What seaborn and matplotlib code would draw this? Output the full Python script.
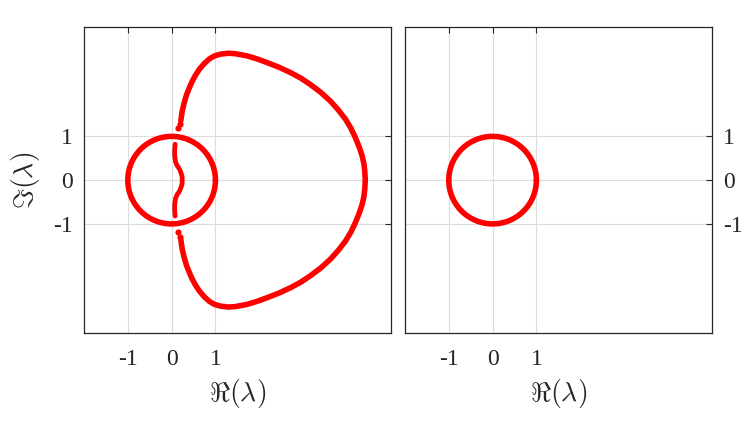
import matplotlib

matplotlib.use("Agg")
import matplotlib.pyplot as plt
import numpy as np
import pandas as pd
import seaborn as sns

# unit circle
radius = 1.0
theta = np.linspace(0, 2 * np.pi, 361)

# outer eigenvalue curve, upper half, mirrored below
outer_re = [0.21, 0.24, 0.29, 0.34, 0.40, 0.46, 0.54, 0.63, 0.74, 0.86, 0.98,
            1.12, 1.30, 1.45, 1.72, 1.95, 2.17, 2.45, 2.71, 2.95, 3.16, 3.40,
            3.62, 3.80, 3.97, 4.09, 4.19, 4.28, 4.35, 4.39, 4.41, 4.42]
outer_im = [1.36, 1.57, 1.78, 1.95, 2.10, 2.24, 2.39, 2.53, 2.66, 2.77, 2.84,
            2.88, 2.90, 2.89, 2.84, 2.77, 2.69, 2.58, 2.46, 2.33, 2.19, 2.01,
            1.81, 1.61, 1.39, 1.19, 0.98, 0.76, 0.55, 0.37, 0.19, 0.00]

# sparse points near the circle crossing
gap_re = [0.15, 0.19]
gap_im = [1.19, 1.29]

# inner wiggle, upper half
inner_re = [0.08, 0.07, 0.07, 0.09, 0.12, 0.17, 0.21, 0.24, 0.24]
inner_im = [0.82, 0.70, 0.55, 0.42, 0.34, 0.27, 0.18, 0.08, 0.00]

ticks = [-1, 0, 1]
xlim = (-2, 5)
ylim = (-3.5, 3.5)


def mirror(re, im):
    re = list(re) + list(re[::-1][1:])
    im = list(im) + [-v for v in im[::-1][1:]]
    return pd.DataFrame({"re": re, "im": im})


circle = pd.DataFrame({"re": radius * np.cos(theta), "im": radius * np.sin(theta)})
outer = mirror(outer_re, outer_im)
inner = mirror(inner_re, inner_im)
gaps = pd.DataFrame({"re": gap_re + gap_re, "im": gap_im + [-v for v in gap_im]})

sns.set_theme(style="white")
plt.rcParams["font.family"] = ["Liberation Serif", "DejaVu Serif"]
plt.rcParams["mathtext.fontset"] = "cm"
plt.rcParams["axes.unicode_minus"] = False

red = "#ff0000"
lw = 4.0
dark = "#262626"

fig = plt.figure(figsize=(7.48, 4.21), dpi=100)
ax1 = fig.add_axes([0.1123, 0.2083, 0.41, 0.7276])
ax2 = fig.add_axes([0.5414, 0.2083, 0.41, 0.7276])

# left panel
sns.lineplot(data=circle, x="re", y="im", sort=False, estimator=None,
             color=red, linewidth=lw, ax=ax1)
sns.lineplot(data=outer, x="re", y="im", sort=False, estimator=None,
             color=red, linewidth=lw, ax=ax1)
sns.lineplot(data=inner, x="re", y="im", sort=False, estimator=None,
             color=red, linewidth=3.4, ax=ax1)
sns.scatterplot(data=gaps, x="re", y="im", color=red, s=20, linewidth=0, ax=ax1)

# right panel
sns.lineplot(data=circle, x="re", y="im", sort=False, estimator=None,
             color=red, linewidth=lw, ax=ax2)

for ax in (ax1, ax2):
    ax.set_xlim(*xlim)
    ax.set_ylim(*ylim)
    ax.set_xticks(ticks)
    ax.set_yticks(ticks)
    ax.set_xticklabels([str(t) for t in ticks])
    ax.set_yticklabels([str(t) for t in ticks])
    ax.grid(True, color="#dcdcdc", linewidth=0.8)
    ax.set_axisbelow(True)
    ax.tick_params(axis="both", direction="in", top=True, right=True,
                   length=4, width=0.8, color=dark, labelsize=17,
                   labelcolor=dark)
    ax.tick_params(axis="x", pad=11)
    ax.tick_params(axis="y", pad=8)
    for s in ax.spines.values():
        s.set_color(dark)
        s.set_linewidth(0.9)
    ax.set_xlabel(r"$\Re(\lambda)$", fontsize=20, color=dark, labelpad=5)

ax1.set_ylabel(r"$\Im(\lambda)$", fontsize=20, color=dark, labelpad=8)
ax2.set_ylabel("")
ax2.tick_params(axis="y", labelleft=False, labelright=True)

fig.savefig("out.png", dpi=100)
